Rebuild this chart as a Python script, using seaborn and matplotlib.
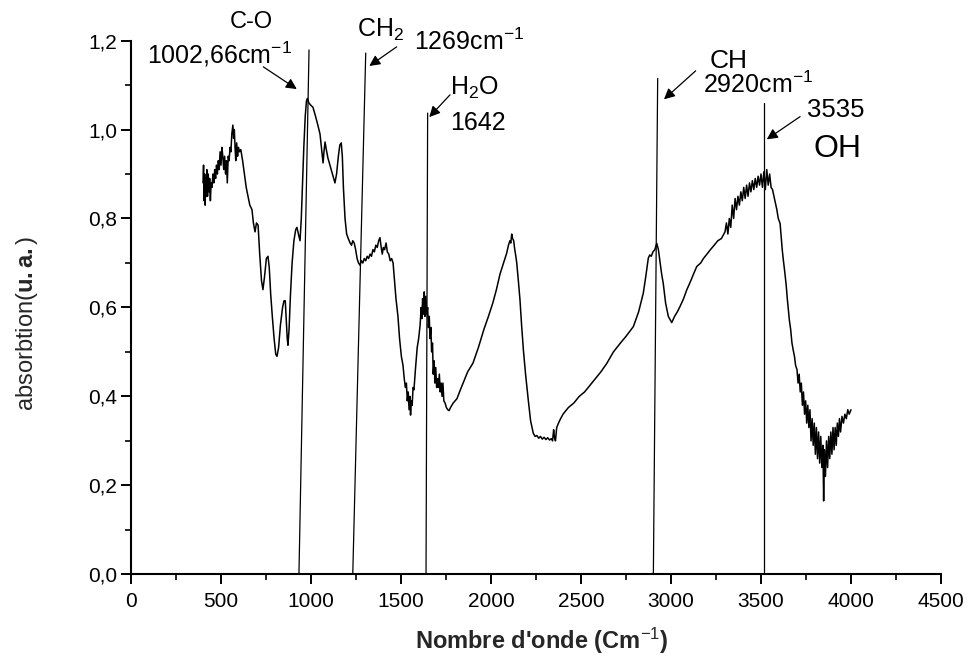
import matplotlib
matplotlib.use("Agg")
import matplotlib.pyplot as plt
from matplotlib.ticker import MultipleLocator, FuncFormatter
import seaborn as sns

# IR spectrum
wavenumber = [
    400, 403, 406, 409, 412, 415, 418, 421, 425, 429, 433, 437, 441, 445, 450, 455, 460, 465, 470, 475,
    480, 485, 490, 495, 500, 505, 510, 515, 520, 525, 530, 535, 540, 545, 550, 555, 560, 566, 570, 574,
    578, 582, 587, 592, 597, 603, 610, 620, 630, 640, 650, 660, 672, 680, 689, 697, 706, 715, 725, 733,
    742, 752, 761, 768, 776, 785, 795, 804, 811, 820, 830, 842, 850, 857, 863, 868, 872, 878, 886, 895,
    905, 915, 922, 930, 939, 946, 953, 960, 968, 975, 980, 988, 998, 1011, 1025, 1038, 1050, 1058, 1067, 1072,
    1078, 1085, 1094, 1105, 1115, 1125, 1133, 1142, 1152, 1160, 1168, 1174, 1180, 1189, 1198, 1207, 1217, 1225, 1232, 1240,
    1248, 1256, 1264, 1272, 1280, 1288, 1296, 1304, 1312, 1320, 1328, 1336, 1344, 1352, 1360, 1368, 1376, 1383, 1390, 1396,
    1402, 1409, 1417, 1424, 1432, 1440, 1448, 1456, 1464, 1472, 1483, 1492, 1502, 1511, 1518, 1524, 1530, 1535, 1540, 1545,
    1550, 1553, 1557, 1562, 1567, 1572, 1580, 1590, 1598, 1606, 1612, 1616, 1620, 1625, 1629, 1633, 1638, 1643, 1648, 1652,
    1657, 1661, 1666, 1670, 1675, 1679, 1684, 1688, 1693, 1698, 1703, 1708, 1713, 1718, 1723, 1728, 1733, 1738, 1745, 1752,
    1760, 1767, 1775, 1790, 1811, 1830, 1850, 1870, 1900, 1930, 1960, 1985, 2010, 2030, 2050, 2070, 2087, 2097, 2105, 2110,
    2115, 2120, 2126, 2132, 2138, 2143, 2152, 2161, 2170, 2180, 2192, 2207, 2220, 2235, 2245, 2255, 2265, 2275, 2285, 2295,
    2305, 2315, 2325, 2335, 2342, 2348, 2352, 2358, 2365, 2375, 2383, 2400, 2430, 2460, 2490, 2520, 2550, 2580, 2610, 2643,
    2680, 2717, 2750, 2791, 2820, 2846, 2860, 2874, 2882, 2890, 2900, 2910, 2921, 2930, 2940, 2948, 2957, 2970, 2985, 3004,
    3020, 3035, 3050, 3070, 3087, 3110, 3125, 3143, 3165, 3180, 3200, 3217, 3240, 3260, 3280, 3300, 3308, 3316, 3324, 3332,
    3340, 3348, 3356, 3364, 3372, 3380, 3388, 3396, 3404, 3412, 3420, 3428, 3436, 3444, 3452, 3460, 3468, 3476, 3484, 3492,
    3500, 3508, 3516, 3524, 3532, 3540, 3548, 3556, 3564, 3572, 3580, 3588, 3596, 3606, 3612, 3618, 3624, 3632, 3640, 3646,
    3652, 3658, 3665, 3672, 3679, 3686, 3692, 3700, 3706, 3712, 3718, 3724, 3730, 3736, 3742, 3748, 3754, 3760, 3766, 3772,
    3778, 3784, 3790, 3796, 3802, 3808, 3814, 3820, 3826, 3832, 3838, 3844, 3848, 3852, 3858, 3864, 3870, 3876, 3882, 3888,
    3894, 3900, 3906, 3912, 3918, 3924, 3930, 3936, 3942, 3950, 3958, 3966, 3974, 3982, 3990, 4000,
]
absorbance = [
    .88, .92, .84, .90, .83, .89, .85, .91, .85, .90, .86, .89, .84, .88, .87, .90, .88, .91, .89, .92,
    .90, .93, .91, .95, .92, .96, .94, .91, .94, .90, .93, .88, .94, .93, .96, .95, .99, 1.01, .98, 1.00,
    .96, .93, .97, .94, .96, .95, .955, .93, .90, .87, .85, .83, .82, .79, .77, .79, .785, .72, .66, .64,
    .67, .71, .715, .69, .63, .58, .53, .495, .49, .51, .56, .60, .615, .615, .57, .53, .515, .55, .63, .70,
    .75, .775, .78, .765, .75, .80, .88, .96, 1.03, 1.065, 1.07, 1.06, 1.055, 1.05, 1.03, 1.01, .99, .96, .925, .95,
    .972, .955, .936, .92, .905, .89, .88, .90, .94, .965, .97, .94, .87, .80, .765, .755, .745, .74, .75, .745,
    .73, .71, .70, .695, .705, .70, .71, .705, .715, .71, .72, .715, .73, .725, .74, .735, .75, .757, .735, .72,
    .735, .73, .745, .725, .72, .705, .71, .70, .66, .62, .58, .53, .49, .47, .44, .42, .43, .39, .41, .37,
    .40, .358, .39, .38, .42, .415, .46, .51, .53, .56, .60, .575, .62, .585, .635, .58, .625, .585, .60, .555,
    .58, .53, .555, .50, .52, .45, .48, .43, .465, .42, .44, .42, .45, .41, .43, .40, .43, .39, .385, .375,
    .37, .368, .375, .385, .395, .415, .435, .455, .475, .51, .55, .579, .61, .64, .675, .70, .722, .74, .75, .745,
    .765, .755, .75, .73, .715, .70, .66, .617, .56, .504, .45, .392, .345, .317, .31, .312, .306, .31, .304, .308,
    .303, .307, .302, .305, .30, .325, .31, .30, .33, .34, .347, .36, .375, .385, .40, .41, .425, .44, .455, .474,
    .50, .519, .535, .557, .59, .632, .67, .711, .718, .715, .725, .73, .744, .73, .70, .675, .654, .61, .58, .566,
    .58, .59, .602, .62, .639, .66, .675, .692, .70, .71, .72, .729, .74, .75, .755, .77, .79, .765, .80, .78,
    .83, .80, .845, .82, .85, .83, .86, .84, .87, .845, .875, .85, .88, .86, .885, .865, .89, .87, .895, .875,
    .90, .87, .905, .865, .91, .875, .90, .87, .865, .85, .835, .82, .80, .789, .76, .73, .707, .68, .65, .62,
    .594, .57, .55, .52, .504, .49, .47, .46, .43, .45, .41, .43, .38, .41, .36, .39, .34, .38, .33, .37,
    .30, .35, .29, .34, .27, .33, .26, .32, .25, .31, .24, .29, .165, .28, .22, .30, .24, .31, .26, .32,
    .27, .33, .28, .33, .29, .34, .31, .35, .32, .355, .34, .36, .35, .37, .36, .37,
]

# hand drawn marker lines (bottom x, top x, top y)
marker_x_bottom = [933, 1232, 1639, 2902, 3518]
marker_x_top = [989, 1304, 1648, 2926, 3518]
marker_y_top = [1.179, 1.172, 1.037, 1.115, 1.059]

# arrows: tail -> head
arrow_tail = [(735, 1.141), (1476, 1.186), (1772, 1.078), (3137, 1.132), (3717, 1.029)]
arrow_head = [(921, 1.091), (1324, 1.143), (1657, 1.028), (2961, 1.068), (3532, 0.978)]

# labels: text, x centre, baseline y, size
labels = [
    ("C-O", 671, 1.228, 17),
    ("1002,66cm$^{-1}$", 494, 1.1475, 18),
    ("CH$_2$", 1388, 1.2075, 18),
    ("1269cm$^{-1}$", 1881, 1.179, 18),
    ("H$_2$O", 1906, 1.079, 18),
    ("1642", 1929, 0.999, 18),
    ("CH", 3321, 1.139, 19),
    ("2920cm$^{-1}$", 3484, 1.0816, 18),
    ("3535", 3917, 1.029, 18.5),
    ("OH", 3925, 0.939, 23),
]

sns.set_style("ticks")
plt.rcParams["font.family"] = ["Liberation Sans", "DejaVu Sans"]
plt.rcParams["mathtext.fontset"] = "custom"
plt.rcParams["mathtext.rm"] = "Liberation Sans"
plt.rcParams["mathtext.it"] = "Liberation Sans:italic"
plt.rcParams["mathtext.bf"] = "Liberation Sans:bold"

fig = plt.figure(figsize=(9.69, 6.58), dpi=100)
ax = fig.add_axes([0.1352, 0.1272, 0.8359, 0.8111])

sns.lineplot(x=wavenumber, y=absorbance, color="black", linewidth=1.1,
             estimator=None, sort=False, ax=ax)

for xb, xt, yt in zip(marker_x_bottom, marker_x_top, marker_y_top):
    ax.plot([xb, xt], [0, yt], color="black", linewidth=0.9, clip_on=False)

for tail, head in zip(arrow_tail, arrow_head):
    ax.annotate("", xy=head, xytext=tail,
                arrowprops=dict(arrowstyle="-|>", color="black", lw=0.9,
                                mutation_scale=16, shrinkA=0, shrinkB=0))

for txt, x, y, size in labels:
    ax.text(x, y, txt, fontsize=size, ha="center", va="baseline", color="black")

ax.set_xlim(0, 4500)
ax.set_ylim(0, 1.2)
ax.xaxis.set_major_locator(MultipleLocator(500))
ax.xaxis.set_minor_locator(MultipleLocator(250))
ax.yaxis.set_major_locator(MultipleLocator(0.2))
ax.yaxis.set_minor_locator(MultipleLocator(0.1))
ax.yaxis.set_major_formatter(FuncFormatter(lambda v, p: f"{v:.1f}".replace(".", ",")))
ax.xaxis.set_major_formatter(FuncFormatter(lambda v, p: f"{v:.0f}"))

ax.tick_params(which="major", direction="out", length=7, width=1.4, labelsize=15, color="black", labelcolor="black")
ax.tick_params(which="minor", direction="out", length=4, width=1.2, color="black")
ax.tick_params(axis="x", pad=6)
ax.tick_params(axis="y", pad=3)

for side in ["top", "right"]:
    ax.spines[side].set_visible(False)
for side in ["left", "bottom"]:
    ax.spines[side].set_linewidth(1.5)
    ax.spines[side].set_color("black")

ax.set_xlabel("Nombre d'onde (Cm$^{-1}$)", fontsize=17, fontweight="bold")
ax.set_ylabel("absorbtion($\\mathbf{u.a.}$)", fontsize=17)
ax.xaxis.set_label_coords(0.507, -0.097)
ax.yaxis.set_label_coords(-0.112, 0.471)

fig.savefig("out.png", dpi=100)
